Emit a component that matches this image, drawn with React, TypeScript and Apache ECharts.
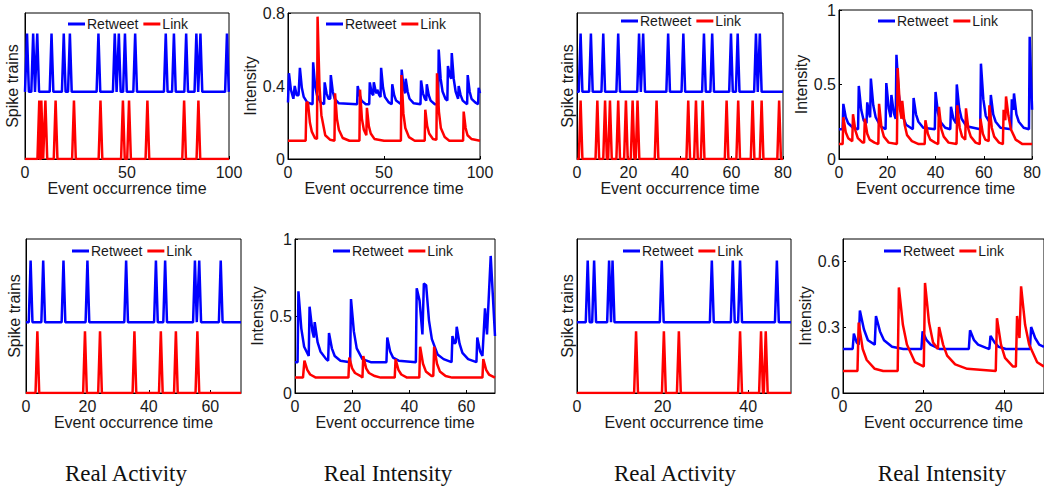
import React, { useEffect, useRef } from 'react';
import * as echarts from 'echarts';

// ---------- Data ----------
// Spike trains: event times
const aRetweetTimes = [1, 4, 6, 13, 19, 22, 36, 44, 46, 49, 54, 69, 73, 79, 84, 86, 99];
const aLinkTimes = [7, 8, 10, 15, 24, 37, 48, 51, 60, 78, 85];

const cRetweetTimes = [1.4, 5.4, 10.2, 16, 24.1, 25.7, 35.4, 41.3, 49.3, 52.5, 59.8, 62.4, 69.5, 71];
const cLinkTimes = [1.4, 7.9, 10.9, 12.8, 16, 19, 21.6, 23.5, 30.9, 43.2, 46.2, 48.8, 58.1, 62.6, 68.2, 71.7, 78.5];

const eRetweetTimes = [1.5, 5.6, 12.2, 20, 32.6, 42.3, 45.3, 55, 56.4, 63.4];
const eLinkTimes = [3.7, 19.2, 24.1, 35.3, 43.9, 48.8, 55.8];

const gRetweetTimes = [2.5, 4, 7.5, 8.3, 19.8, 31.5, 36.4, 38.1, 46.7];
const gLinkTimes = [13.8, 20.3, 23.8, 38.1, 43, 44.1];

// Intensities: [time, value]
const bRetweet = [[0,0.31],[0.5,0.47],[1.5,0.38],[2.8,0.33],[3.5,0.40],[4.5,0.35],[5.5,0.35],[6.2,0.50],[7.2,0.39],[8.2,0.34],[10,0.31],[12.8,0.30],[13.1,0.53],[14.1,0.40],[15.1,0.35],[17,0.31],[18.8,0.30],[19.1,0.42],[20.1,0.36],[21.1,0.33],[22,0.33],[22.3,0.46],[23.3,0.37],[24.3,0.33],[26.5,0.305],[36,0.30],[36.3,0.40],[37.3,0.35],[38.3,0.32],[40.5,0.30],[42.3,0.30],[42.6,0.42],[43.6,0.36],[44.4,0.35],[44.7,0.42],[45.7,0.37],[46.2,0.36],[46.5,0.38],[47.5,0.35],[48.2,0.34],[48.5,0.50],[49.5,0.39],[50.5,0.34],[52.5,0.31],[54,0.30],[54.3,0.41],[55.3,0.35],[56.3,0.32],[58.9,0.30],[59.2,0.49],[60.2,0.39],[61,0.36],[61.3,0.44],[62.3,0.37],[63.3,0.33],[65.5,0.305],[69,0.30],[69.3,0.43],[70.3,0.36],[71.3,0.33],[72,0.32],[72.3,0.41],[73.3,0.35],[74.3,0.32],[76.5,0.30],[78.2,0.30],[78.5,0.60],[79.5,0.44],[80.5,0.37],[82,0.33],[83,0.32],[83.3,0.51],[84.2,0.46],[85,0.44],[85.3,0.58],[86.3,0.44],[87.3,0.37],[88.6,0.33],[88.9,0.40],[89.9,0.35],[91,0.32],[93.3,0.30],[93.6,0.46],[94.6,0.37],[95.6,0.33],[97.5,0.31],[99,0.30],[99.3,0.39],[100,0.36]];
const bLink = [[0,0.1],[9.2,0.1],[9.6,0.31],[10.4,0.31],[11.4,0.2],[12.4,0.15],[14,0.115],[15.1,0.11],[15.4,0.78],[16.4,0.40],[17.4,0.24],[19.4,0.13],[22,0.105],[24.2,0.1],[24.5,0.36],[25.5,0.22],[26.5,0.16],[28.5,0.115],[32,0.1],[37.2,0.1],[37.5,0.38],[38.5,0.22],[39.5,0.16],[40.8,0.13],[41.1,0.28],[42.1,0.18],[43.1,0.14],[45,0.11],[50,0.1],[58.8,0.1],[59.1,0.46],[60.1,0.25],[61.1,0.17],[63,0.12],[66,0.1],[71.2,0.1],[71.5,0.27],[72.5,0.18],[73.5,0.14],[75.5,0.11],[77.3,0.105],[77.6,0.47],[78.6,0.26],[79.6,0.17],[81.6,0.12],[84,0.1],[91.2,0.1],[91.5,0.26],[92.5,0.17],[93.5,0.13],[95.5,0.11],[100,0.1]];

const dRetweet = [[0,0.2],[1.5,0.2],[1.8,0.37],[2.8,0.28],[3.8,0.24],[5.8,0.21],[7.9,0.2],[8.2,0.49],[9.2,0.33],[10.2,0.26],[11.4,0.24],[11.7,0.38],[12.7,0.29],[12.9,0.28],[13.2,0.54],[14.2,0.36],[15.2,0.28],[17.2,0.22],[19.3,0.2],[19.6,0.51],[20.6,0.34],[21.4,0.28],[21.7,0.43],[22.7,0.31],[23.5,0.27],[23.8,0.70],[24.8,0.43],[25.8,0.31],[27.8,0.23],[30.6,0.2],[30.9,0.41],[31.9,0.30],[32.9,0.25],[34.9,0.21],[39.7,0.2],[40,0.45],[41,0.31],[42,0.25],[44,0.21],[46.1,0.2],[46.4,0.35],[47.4,0.27],[48.5,0.24],[48.8,0.50],[49.8,0.34],[50.8,0.27],[52.8,0.22],[58.5,0.2],[58.8,0.64],[59.8,0.40],[60.8,0.29],[62.6,0.24],[62.9,0.43],[63.9,0.30],[64.9,0.25],[66.9,0.21],[71.3,0.2],[71.6,0.40],[72.2,0.33],[72.5,0.44],[73.5,0.30],[74.5,0.25],[76.5,0.21],[78.7,0.2],[79,0.82],[80,0.33]];
const dLink = [[0,0.1],[1.5,0.1],[1.8,0.28],[2.8,0.18],[3.8,0.14],[5.5,0.12],[5.8,0.30],[6.8,0.19],[7.8,0.14],[9.8,0.11],[10.4,0.11],[10.7,0.27],[11.7,0.17],[12.7,0.13],[14.7,0.11],[16.3,0.1],[16.6,0.37],[17.6,0.21],[18.6,0.15],[20.6,0.11],[24,0.1],[24.3,0.61],[25.3,0.33],[25.9,0.27],[26.2,0.39],[27.2,0.23],[28.2,0.16],[30.2,0.12],[33,0.1],[35.5,0.1],[35.8,0.26],[36.8,0.17],[37.8,0.13],[39.8,0.11],[41.1,0.1],[41.4,0.35],[42.4,0.2],[43.4,0.15],[45.4,0.11],[48.7,0.1],[49,0.36],[50,0.21],[51,0.15],[52.3,0.13],[52.6,0.34],[53.6,0.2],[54.6,0.15],[56.6,0.11],[58.3,0.1],[58.6,0.27],[59.6,0.17],[60.6,0.13],[62,0.12],[62.3,0.36],[63.3,0.21],[64.3,0.15],[66.3,0.11],[67.9,0.1],[68.2,0.33],[68.9,0.26],[69.2,0.42],[70.2,0.29],[71.2,0.2],[73.2,0.13],[76,0.1],[80,0.1]];

const fRetweet = [[0,0.2],[0.9,0.2],[1.2,0.66],[2.2,0.42],[3.2,0.3],[4.8,0.24],[5.1,0.56],[6.1,0.40],[6.6,0.36],[6.9,0.46],[7.9,0.33],[8.9,0.27],[10.9,0.22],[11.6,0.21],[11.9,0.39],[12.9,0.29],[13.9,0.24],[15.9,0.21],[19.3,0.2],[19.6,0.61],[20.6,0.40],[21.6,0.29],[23.6,0.22],[26.5,0.2],[32,0.2],[32.3,0.36],[33.3,0.27],[34.3,0.23],[36.3,0.21],[42.3,0.2],[42.6,0.68],[43.6,0.60],[44.6,0.38],[45.1,0.71],[45.9,0.70],[46.9,0.47],[47.9,0.35],[49.9,0.25],[52,0.22],[54.8,0.2],[55.1,0.37],[55.8,0.32],[56.3,0.33],[56.6,0.43],[57.6,0.32],[58.6,0.26],[60.6,0.22],[63.5,0.2],[63.8,0.36],[64.8,0.27],[65.6,0.24],[66.5,0.55],[67.2,0.38],[68.5,0.89],[70,0.37]];
const fLink = [[0,0.1],[2.8,0.1],[3.3,0.21],[4.3,0.15],[5.3,0.12],[7.3,0.1],[18.7,0.1],[19,0.23],[20,0.16],[21,0.13],[23,0.11],[23.6,0.1],[23.9,0.24],[24.9,0.16],[25.9,0.13],[27.9,0.11],[30,0.1],[34.9,0.1],[35.2,0.22],[36.2,0.15],[37.2,0.12],[39.2,0.1],[43.5,0.1],[43.8,0.30],[44.8,0.19],[45.8,0.14],[47.8,0.11],[48.4,0.11],[48.7,0.30],[49.7,0.19],[50.7,0.14],[52.7,0.11],[55,0.1],[65.6,0.1],[65.9,0.22],[66.9,0.15],[67.9,0.12],[70,0.1]];

const hRetweet = [[0,0.2],[2.4,0.2],[2.7,0.27],[3.4,0.23],[3.9,0.22],[4.2,0.375],[5.2,0.29],[6.2,0.24],[7.9,0.22],[8.2,0.35],[9.2,0.28],[10.2,0.24],[12.2,0.21],[15,0.2],[19.5,0.2],[19.8,0.28],[20.8,0.24],[21.8,0.22],[24,0.2],[31.3,0.2],[31.6,0.285],[32.6,0.24],[33.6,0.22],[35.6,0.205],[36.4,0.2],[36.7,0.26],[37.7,0.23],[38.7,0.21],[40.5,0.2],[46.5,0.2],[46.8,0.30],[47.8,0.25],[48.8,0.22],[50,0.21]];
const hLink = [[0,0.1],[3.6,0.1],[3.9,0.32],[4.9,0.2],[5.9,0.15],[7.9,0.11],[10,0.1],[13.6,0.1],[13.9,0.48],[14.9,0.31],[15.9,0.22],[17.9,0.14],[20.1,0.12],[20.4,0.50],[21.4,0.32],[22.4,0.23],[23.6,0.2],[23.9,0.30],[24.9,0.22],[25.9,0.17],[27.9,0.13],[30.9,0.11],[38,0.1],[38.3,0.34],[39.3,0.22],[40.3,0.16],[42.3,0.12],[43,0.12],[43.3,0.35],[43.9,0.25],[44.3,0.485],[45.3,0.31],[46.3,0.22],[48.3,0.14],[50,0.12]];

// Spike levels (stacked trains)
const linkLevels = [0, 1];
const retweetLevels = [1.15, 2.15];

const legendNames = ['Retweet', 'Link'];
const captions = ['Real Activity', 'Real Intensity', 'Real Activity', 'Real Intensity'];

const BLUE = '#0000ff';
const RED = '#ff0000';
const FONT = '"Liberation Sans", Arial, Helvetica, sans-serif';
const TXT = '#1a1a1a';

function spikeTrain(times: number[], levels: number[], half: number, xMax: number) {
  const pts: number[][] = [[0, levels[0]]];
  times.forEach((t) => {
    pts.push([t - half, levels[0]], [t, levels[1]], [t + half, levels[0]]);
  });
  pts.push([xMax, levels[0]]);
  return pts;
}

type Panel = {
  left: number; top: number; width: number; height: number;
  xMax: number; xInt: number; yMax: number; yInt: number;
  kind: 'spike' | 'int'; yName: string; yGap: number;
  retweet: number[][]; link: number[][];
  legLeft: number; legTop: number;
};

const panels: Panel[] = [
  { left: 25, top: 13, width: 204, height: 146, xMax: 100, xInt: 50, yMax: 2.5, yInt: 2.5, kind: 'spike', yName: 'Spike trains', yGap: 5,
    retweet: spikeTrain(aRetweetTimes, retweetLevels, 0.9, 100), link: spikeTrain(aLinkTimes, linkLevels, 0.9, 100), legLeft: 68, legTop: 17 },
  { left: 288, top: 13, width: 192, height: 146, xMax: 100, xInt: 50, yMax: 0.8, yInt: 0.4, kind: 'int', yName: 'Intensity', yGap: 28,
    retweet: bRetweet, link: bLink, legLeft: 326, legTop: 17 },
  { left: 577, top: 13, width: 206, height: 146, xMax: 80, xInt: 20, yMax: 2.5, yInt: 2.5, kind: 'spike', yName: 'Spike trains', yGap: 2,
    retweet: spikeTrain(cRetweetTimes, retweetLevels, 0.7, 80), link: spikeTrain(cLinkTimes, linkLevels, 0.7, 80), legLeft: 621, legTop: 14 },
  { left: 839, top: 10, width: 194, height: 149, xMax: 80, xInt: 20, yMax: 1, yInt: 0.5, kind: 'int', yName: 'Intensity', yGap: 26,
    retweet: dRetweet, link: dLink, legLeft: 878, legTop: 14 },
  { left: 26, top: 239, width: 215, height: 154, xMax: 70, xInt: 20, yMax: 2.5, yInt: 2.5, kind: 'spike', yName: 'Spike trains', yGap: 4,
    retweet: spikeTrain(eRetweetTimes, retweetLevels, 0.6, 70), link: spikeTrain(eLinkTimes, linkLevels, 0.6, 70), legLeft: 72, legTop: 244 },
  { left: 295, top: 239, width: 200, height: 154, xMax: 70, xInt: 20, yMax: 1, yInt: 0.5, kind: 'int', yName: 'Intensity', yGap: 28,
    retweet: fRetweet, link: fLink, legLeft: 333, legTop: 244 },
  { left: 577, top: 239, width: 214, height: 154, xMax: 50, xInt: 20, yMax: 2.5, yInt: 2.5, kind: 'spike', yName: 'Spike trains', yGap: 2,
    retweet: spikeTrain(gRetweetTimes, retweetLevels, 0.45, 50), link: spikeTrain(gLinkTimes, linkLevels, 0.45, 50), legLeft: 623, legTop: 244 },
  { left: 843, top: 239, width: 202, height: 154, xMax: 50, xInt: 20, yMax: 0.7, yInt: 0.3, kind: 'int', yName: 'Intensity', yGap: 27,
    retweet: hRetweet, link: hLink, legLeft: 884, legTop: 244 },
];

const captionPos = [[126, 473], [388, 473], [675, 473], [942, 473]];

export default function App() {
  const ref = useRef<HTMLDivElement>(null);
  useEffect(() => {
    if (!ref.current) return;
    const chart = echarts.init(ref.current, undefined, { renderer: 'svg' });
    const grid: any[] = [];
    const xAxis: any[] = [];
    const yAxis: any[] = [];
    const series: any[] = [];
    const legend: any[] = [];
    panels.forEach((p, i) => {
      grid.push({ left: p.left, top: p.top, width: p.width, height: p.height, show: true, borderColor: '#000', borderWidth: 1, backgroundColor: '#fff' });
      xAxis.push({
        type: 'value', gridIndex: i, min: 0, max: p.xMax, interval: p.xInt,
        name: 'Event occurrence time', nameLocation: 'middle', nameGap: 18,
        nameTextStyle: { fontFamily: FONT, fontSize: 16, color: TXT },
        axisLine: { show: true, lineStyle: { color: '#000', width: 1 } },
        axisTick: { show: true, inside: true, length: 3, lineStyle: { color: '#000' } },
        axisLabel: { fontFamily: FONT, fontSize: 16, color: TXT, margin: 5, showMaxLabel: p.xMax % p.xInt === 0 },
        splitLine: { show: false },
      });
      yAxis.push({
        type: 'value', gridIndex: i, min: 0, max: p.yMax, interval: p.yInt,
        name: p.yName, nameLocation: 'middle', nameGap: p.yGap,
        nameTextStyle: { fontFamily: FONT, fontSize: 16, color: TXT },
        axisLine: { show: true, lineStyle: { color: '#000', width: 1 } },
        axisTick: { show: p.kind === 'int', inside: true, length: 3, lineStyle: { color: '#000' } },
        axisLabel: {
          show: p.kind === 'int', fontFamily: FONT, fontSize: 16, color: TXT, margin: 3,
          showMaxLabel: Math.abs(p.yMax / p.yInt - Math.round(p.yMax / p.yInt)) < 1e-6,
        },
        splitLine: { show: false },
      });
      series.push({
        name: 'Retweet', type: 'line', xAxisIndex: i, yAxisIndex: i, data: p.retweet,
        symbol: 'none', showSymbol: false, color: BLUE, lineStyle: { color: BLUE, width: 2.5 }, z: 3,
      });
      series.push({
        name: 'Link', type: 'line', xAxisIndex: i, yAxisIndex: i, data: p.link,
        symbol: 'none', showSymbol: false, color: RED, lineStyle: { color: RED, width: 2.5 }, z: 4,
      });
      legend.push({
        data: legendNames, left: p.legLeft, top: p.legTop, orient: 'horizontal',
        icon: 'rect', itemWidth: 17, itemHeight: 3, itemGap: 5, padding: 0,
        textStyle: { fontFamily: FONT, fontSize: 14, color: TXT, padding: [0, 0, 0, -3] },
        selectedMode: false,
      });
    });
    const graphic = captions.map((c, i) => ({
      type: 'text', x: captionPos[i][0], y: captionPos[i][1],
      style: { text: c, font: '23px "Liberation Serif", "Times New Roman", serif', fill: '#111', align: 'center', verticalAlign: 'middle' },
    }));
    chart.setOption({ animation: false, backgroundColor: '#fff', grid, xAxis, yAxis, series, legend, graphic });
    return () => chart.dispose();
  }, []);
  return <div ref={ref} style={{ position: 'absolute', left: 0, top: 0, width: 1044, height: 489 }} />;
}
